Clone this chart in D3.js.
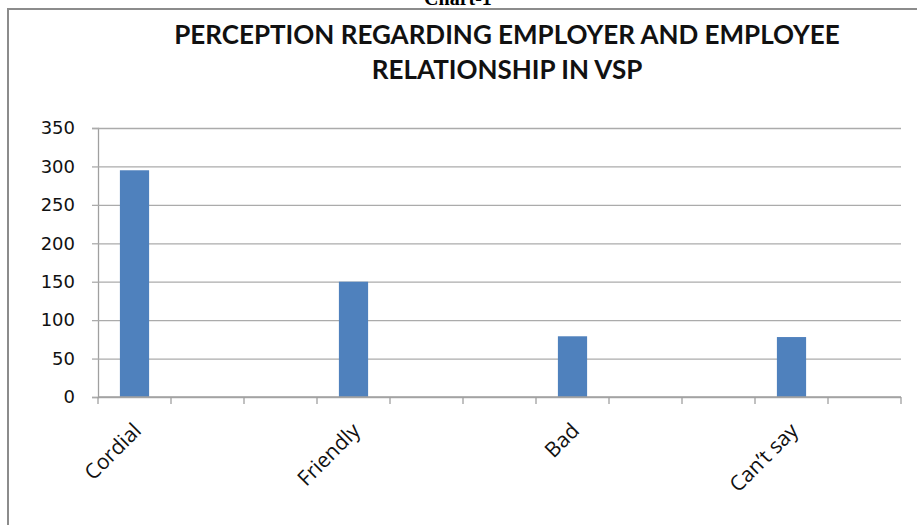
<!DOCTYPE html>
<html>
<head>
<meta charset="utf-8">
<script src="https://cdn.jsdelivr.net/npm/d3@7"></script>
<style>
  body { margin: 0; background: #fff; }
  svg { display: block; }
</style>
</head>
<body>
<svg width="917" height="525"></svg>
<script>
//-- data --//
const categories = ["Cordial", "", "", "Friendly", "", "", "Bad", "", "", "Can\u2019t say", ""];
const values = [295, null, null, 150, null, null, 79, null, null, 78, null];
const yTicks = [0, 50, 100, 150, 200, 250, 300, 350];
const title = ["PERCEPTION REGARDING EMPLOYER AND EMPLOYEE", "RELATIONSHIP IN VSP"];

const width = 917, height = 525;
const margin = {top: 128, right: 16, bottom: 128, left: 98};

const svg = d3.select("svg");

// caption cut off at top of the page (as in the scan)
svg.append("text")
    .attr("x", 458).attr("y", 5)
    .attr("text-anchor", "middle")
    .style("font", "bold 20px 'Liberation Serif', serif")
    .text("Chart-1");

// chart frame
svg.append("rect")
    .attr("x", 8).attr("y", 9)
    .attr("width", width + 10).attr("height", height + 10)
    .attr("fill", "none")
    .attr("stroke", "#8c8c8c")
    .attr("stroke-width", 2);

const idx = d3.range(categories.length);

const x = d3.scaleBand()
    .domain(idx)
    .range([margin.left, width - margin.right])
    .paddingInner(0.6)
    .paddingOuter(0.3);

const y = d3.scaleLinear()
    .domain([0, 350])
    .range([height - margin.bottom, margin.top]);

// category boundaries for the tick marks
const step = x.step();
const bounds = idx.map(i => x(i) - step * x.paddingOuter()).concat([x.range()[1]]);

// gridlines + y axis
const yAxis = g => g
    .attr("transform", `translate(${margin.left},0)`)
    .call(d3.axisLeft(y).tickValues(yTicks).tickSize(6).tickPadding(17))
    .call(g => g.selectAll(".tick line").clone()
        .attr("x1", 0)
        .attr("x2", x.range()[1] - margin.left))
    .call(g => g.selectAll("line").attr("stroke", "#ababab").attr("stroke-width", 1.3))
    .call(g => g.select(".domain").attr("stroke", "#a0a0a0").attr("stroke-width", 1.3))
    .call(g => g.selectAll("text")
        .style("font", "18px 'DejaVu Sans', sans-serif")
        .attr("fill", "#111"));

svg.append("g").call(yAxis);

// bars
svg.append("g")
    .selectAll("rect")
    .data(idx.filter(i => values[i] != null))
    .join("rect")
    .attr("x", i => x(i))
    .attr("y", i => y(values[i]))
    .attr("width", x.bandwidth())
    .attr("height", i => y(0) - y(values[i]))
    .attr("fill", "#4f81bd");

// x axis line + boundary ticks
const xg = svg.append("g");
xg.append("line")
    .attr("x1", x.range()[0]).attr("x2", x.range()[1])
    .attr("y1", y(0)).attr("y2", y(0))
    .attr("stroke", "#a0a0a0").attr("stroke-width", 1.3);
xg.selectAll("line.tk")
    .data(bounds)
    .join("line")
    .attr("class", "tk")
    .attr("x1", d => d).attr("x2", d => d)
    .attr("y1", y(0)).attr("y2", y(0) + 7)
    .attr("stroke", "#a0a0a0").attr("stroke-width", 1.3);

xg.selectAll("text")
    .data(idx.filter(i => categories[i]))
    .join("text")
    .attr("transform", i => `translate(${x(i) + x.bandwidth() / 2 + 8},${y(0) + 35}) rotate(-45)`)
    .attr("text-anchor", "end")
    .style("font", "21px 'Open Sans', sans-serif")
    .attr("fill", "#111")
    .text(i => categories[i]);

// title
svg.append("g")
    .selectAll("text")
    .data(title)
    .join("text")
    .attr("x", 507)
    .attr("y", (d, i) => 44 + i * 35)
    .attr("text-anchor", "middle")
    .style("font", "bold 26px Lato, sans-serif")
    .attr("fill", "#111")
    .text(d => d);
</script>
</body>
</html>
